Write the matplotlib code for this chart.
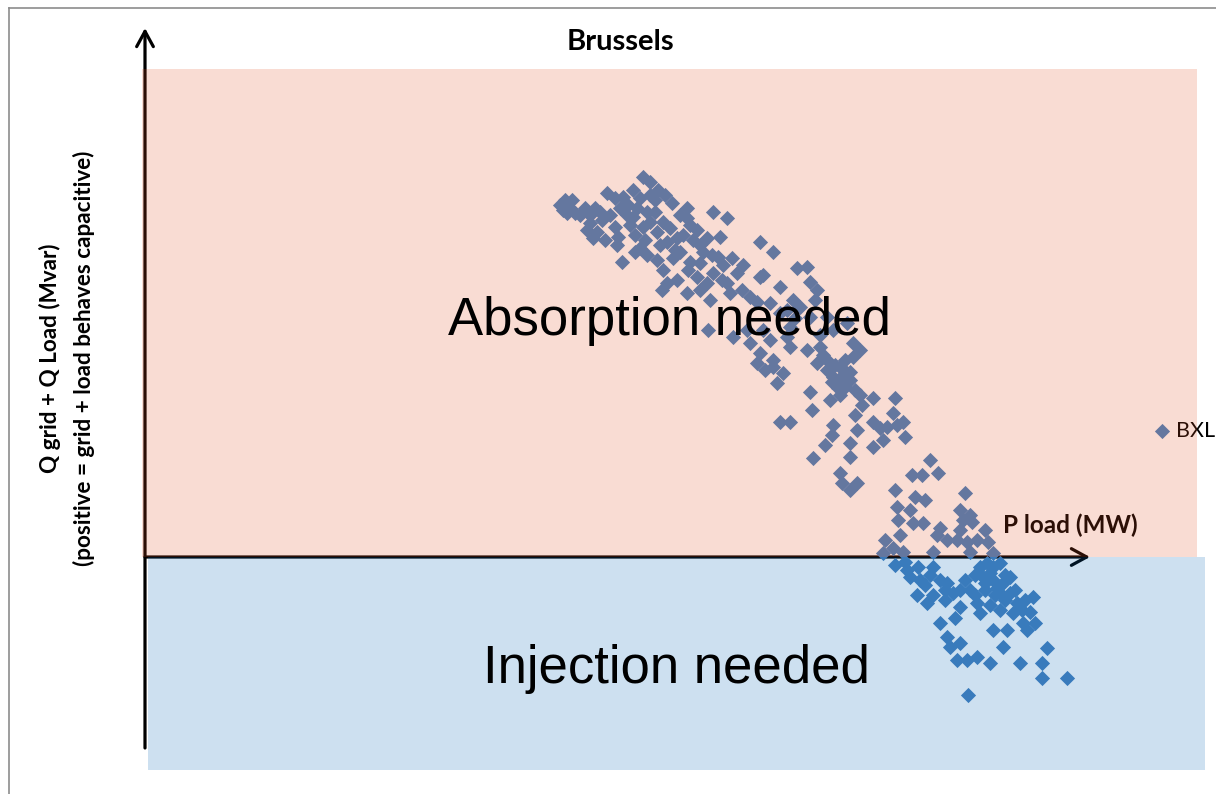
import matplotlib
matplotlib.use('Agg')
import matplotlib.pyplot as plt
from matplotlib.patches import Rectangle
from matplotlib.lines import Line2D

# P load (MW) and Q grid + Q load (Mvar) for Brussels
p_load = [415, 420, 425, 430, 422, 440, 450, 445, 457, 452, 442, 462, 470, 478, 483,
          475, 492, 488, 495, 502, 510, 470, 473, 472, 490, 498, 495, 498, 505, 513,
          520, 527, 518, 525, 532, 522, 535, 528, 542, 542, 477, 510, 535, 545, 548,
          568, 582, 615, 628, 652, 662, 562, 575, 558, 587, 598, 578, 552, 577, 562,
          592, 618, 635, 665, 672, 648, 655, 605, 597, 563, 588, 618, 645, 635, 682,
          702, 708, 715, 662, 675, 682, 695, 702, 615, 628, 638, 688, 708, 665, 490,
          502, 512, 518, 522, 517, 532, 542, 555, 552, 568, 573, 582, 585, 612, 615,
          625, 642, 565, 602, 605, 612, 628, 632, 642, 645, 620, 665, 667, 685, 672,
          682, 690, 695, 705, 700, 710, 693, 715, 728, 750, 635, 645, 688, 687, 680,
          668, 705, 705, 710, 712, 728, 735, 742, 728, 738, 748, 752, 758, 760, 695,
          697, 705, 712, 767, 777, 785, 793, 750, 770, 780, 820, 752, 765, 815, 825,
          753, 768, 778, 795, 792, 802, 818, 827, 812, 822, 832, 843, 738, 748, 758,
          788, 825, 848, 762, 773, 765, 788, 795, 802, 808, 772, 782, 788, 815, 825,
          835, 842, 848, 855, 838, 848, 858, 865, 855, 865, 872, 877, 888, 832, 835,
          810, 795, 802, 815, 805, 812, 822, 832, 845, 848, 862, 858, 878, 890, 882,
          875, 902, 897, 897, 922, 823, 845, 852, 840, 860, 830, 820, 800, 780, 760,
          750, 868, 885, 688,
          418, 427, 435, 445, 455, 448, 460, 465, 482, 485, 505, 512, 515, 530, 538,
          505, 488, 500, 545, 555, 567, 543, 555,
          678, 687, 700, 705, 695, 717, 675, 650, 670, 625,
          840, 850, 860, 845, 830, 815, 800, 785, 775, 870, 855, 880,
          740, 755, 815, 840]
q_sum = [352, 357, 349, 344, 344, 349, 349, 334, 337, 325, 327, 364, 359, 360, 352,
         349, 349, 340, 359, 345, 345, 330, 320, 312, 322, 330, 309, 380, 375, 367,
         362, 354, 335, 329, 319, 315, 305, 299, 349, 339, 295, 357, 342, 332, 317,
         345, 339, 315, 305, 289, 290, 319, 320, 305, 299, 292, 292, 327, 277, 274,
         284, 282, 270, 275, 267, 257, 250, 260, 267, 227, 220, 227, 230, 244, 240,
         234, 214, 207, 207, 210, 197, 190, 184, 204, 190, 184, 180, 200, 240, 305,
         302, 297, 287, 274, 267, 277, 264, 294, 280, 284, 300, 274, 264, 255, 280,
         254, 247, 257, 227, 214, 194, 197, 174, 220, 210, 187, 165, 147, 157, 194,
         187, 192, 179, 185, 170, 167, 169, 162, 159, 159, 135, 135, 132, 122, 112,
         99, 114, 100, 142, 127, 135, 129, 130, 110, 117, 144, 132, 135, 120, 84,
         74, 67, 74, 82, 82, 97, 84, 67, 60, 57, 64, 50, 47, 47, 42,
         37, 34, 34, 29, 22, 17, 37, 35, 17, 15, 17, 15, 4, 9, 5,
         5, 5, 4, -13, -10, -20, -10, -23, -26, -36, -38, -46, -38, -50, -33,
         -10, -6, -10, -6, -20, -23, -26, -20, -36, -36, -46, -53, -40, -46, -56,
         -61, -66, -80, -86, -90, -103, -103, -100, -106, -73, -73, -90, -66, -66, -73,
         -106, -91, -106, -121, -121, -138, -16, -31, -33, -43, -18, -23, -43, -28, -5,
         -8, -56, -55, 227,
         347, 357, 342, 342, 345, 319, 317, 342, 342, 332, 335, 325, 312, 307, 322,
         362, 367, 317, 295, 312, 302, 287, 267,
         202, 175, 197, 177, 162, 152, 222, 239, 257, 217,
         -26, -38, -18, -48, -38, -33, -33, -18, -23, -33, -53, -43,
         17, 22, 27, 27]

series_label = 'BXL'
title = 'Brussels'
x_label = 'P load (MW)'
y_label = 'Q grid + Q Load (Mvar)\n(positive = grid + load behaves capacitive)'

W, H = 1216, 794
x0, y0 = 145, 557  # pixel position of the axis origin

fig = plt.figure(figsize=(W / 100, H / 100), dpi=100)
ax = fig.add_axes([0, 0, 1, 1])
ax.set_xlim(-x0, W - x0)
ax.set_ylim(y0 - H, y0)
ax.axis('off')

# scatter, drawn under the translucent zones
sc = ax.scatter(p_load, q_sum, marker='D', s=60, color='#4681bf', linewidths=0,
                zorder=1.5, label=series_label)

# axes drawn as arrows
arrow = dict(arrowstyle='->,head_length=1.1,head_width=0.6', lw=2.3, color='black',
             shrinkA=0, shrinkB=0)
ax.annotate('', xy=(0, y0 - 28), xytext=(0, y0 - 748), arrowprops=arrow, zorder=1)
ax.annotate('', xy=(1090 - x0, 0), xytext=(0, 0), arrowprops=arrow, zorder=1)

# translucent zones
ax.add_patch(Rectangle((-3, 0), 1197 - 142, y0 - 69, facecolor='#e15023', alpha=0.2,
                       edgecolor='none', zorder=3))
ax.add_patch(Rectangle((3, 0), 1205 - 148, -(770 - y0), facecolor='#0564b4', alpha=0.2,
                       edgecolor='none', zorder=3))

font = 'Lato'
ax.text(620 - x0, y0 - 50, title, ha='center', va='baseline', fontsize=21,
        fontweight='bold', family=font, zorder=4)
ax.text(1003 - x0, y0 - 533, x_label, ha='left', va='baseline', fontsize=17.5,
        fontweight='bold', family=font, zorder=2)
ax.text(67 - x0, y0 - 358, y_label, ha='center', va='center', rotation=90,
        fontsize=16.2, fontweight='bold', family=font, multialignment='center',
        linespacing=1.65, zorder=4)

ax.text(669 - x0, y0 - 335, 'Absorption needed', ha='center', va='baseline',
        fontsize=38, family='Liberation Sans', zorder=4)
ax.text(676 - x0, y0 - 683, 'Injection needed', ha='center', va='baseline',
        fontsize=38, family='Liberation Sans', zorder=4)

leg = ax.legend(handles=[sc], labels=[series_label], loc='center left',
                bbox_to_anchor=(1153 / W, (H - 431) / H), frameon=False,
                borderpad=0, borderaxespad=0, handlelength=0.8, handletextpad=0.25,
                scatterpoints=1, prop={'family': font, 'size': 15.5})
leg.set_zorder(2)

# outer frame (left and top edges)
fig.add_artist(Line2D([8.5 / W, 8.5 / W], [0, 1 - 7.5 / H], color='#8c8c8c', lw=1.2))
fig.add_artist(Line2D([8.5 / W, 1], [1 - 7.5 / H, 1 - 7.5 / H], color='#8c8c8c', lw=1.2))

fig.savefig('out.png', dpi=100)
